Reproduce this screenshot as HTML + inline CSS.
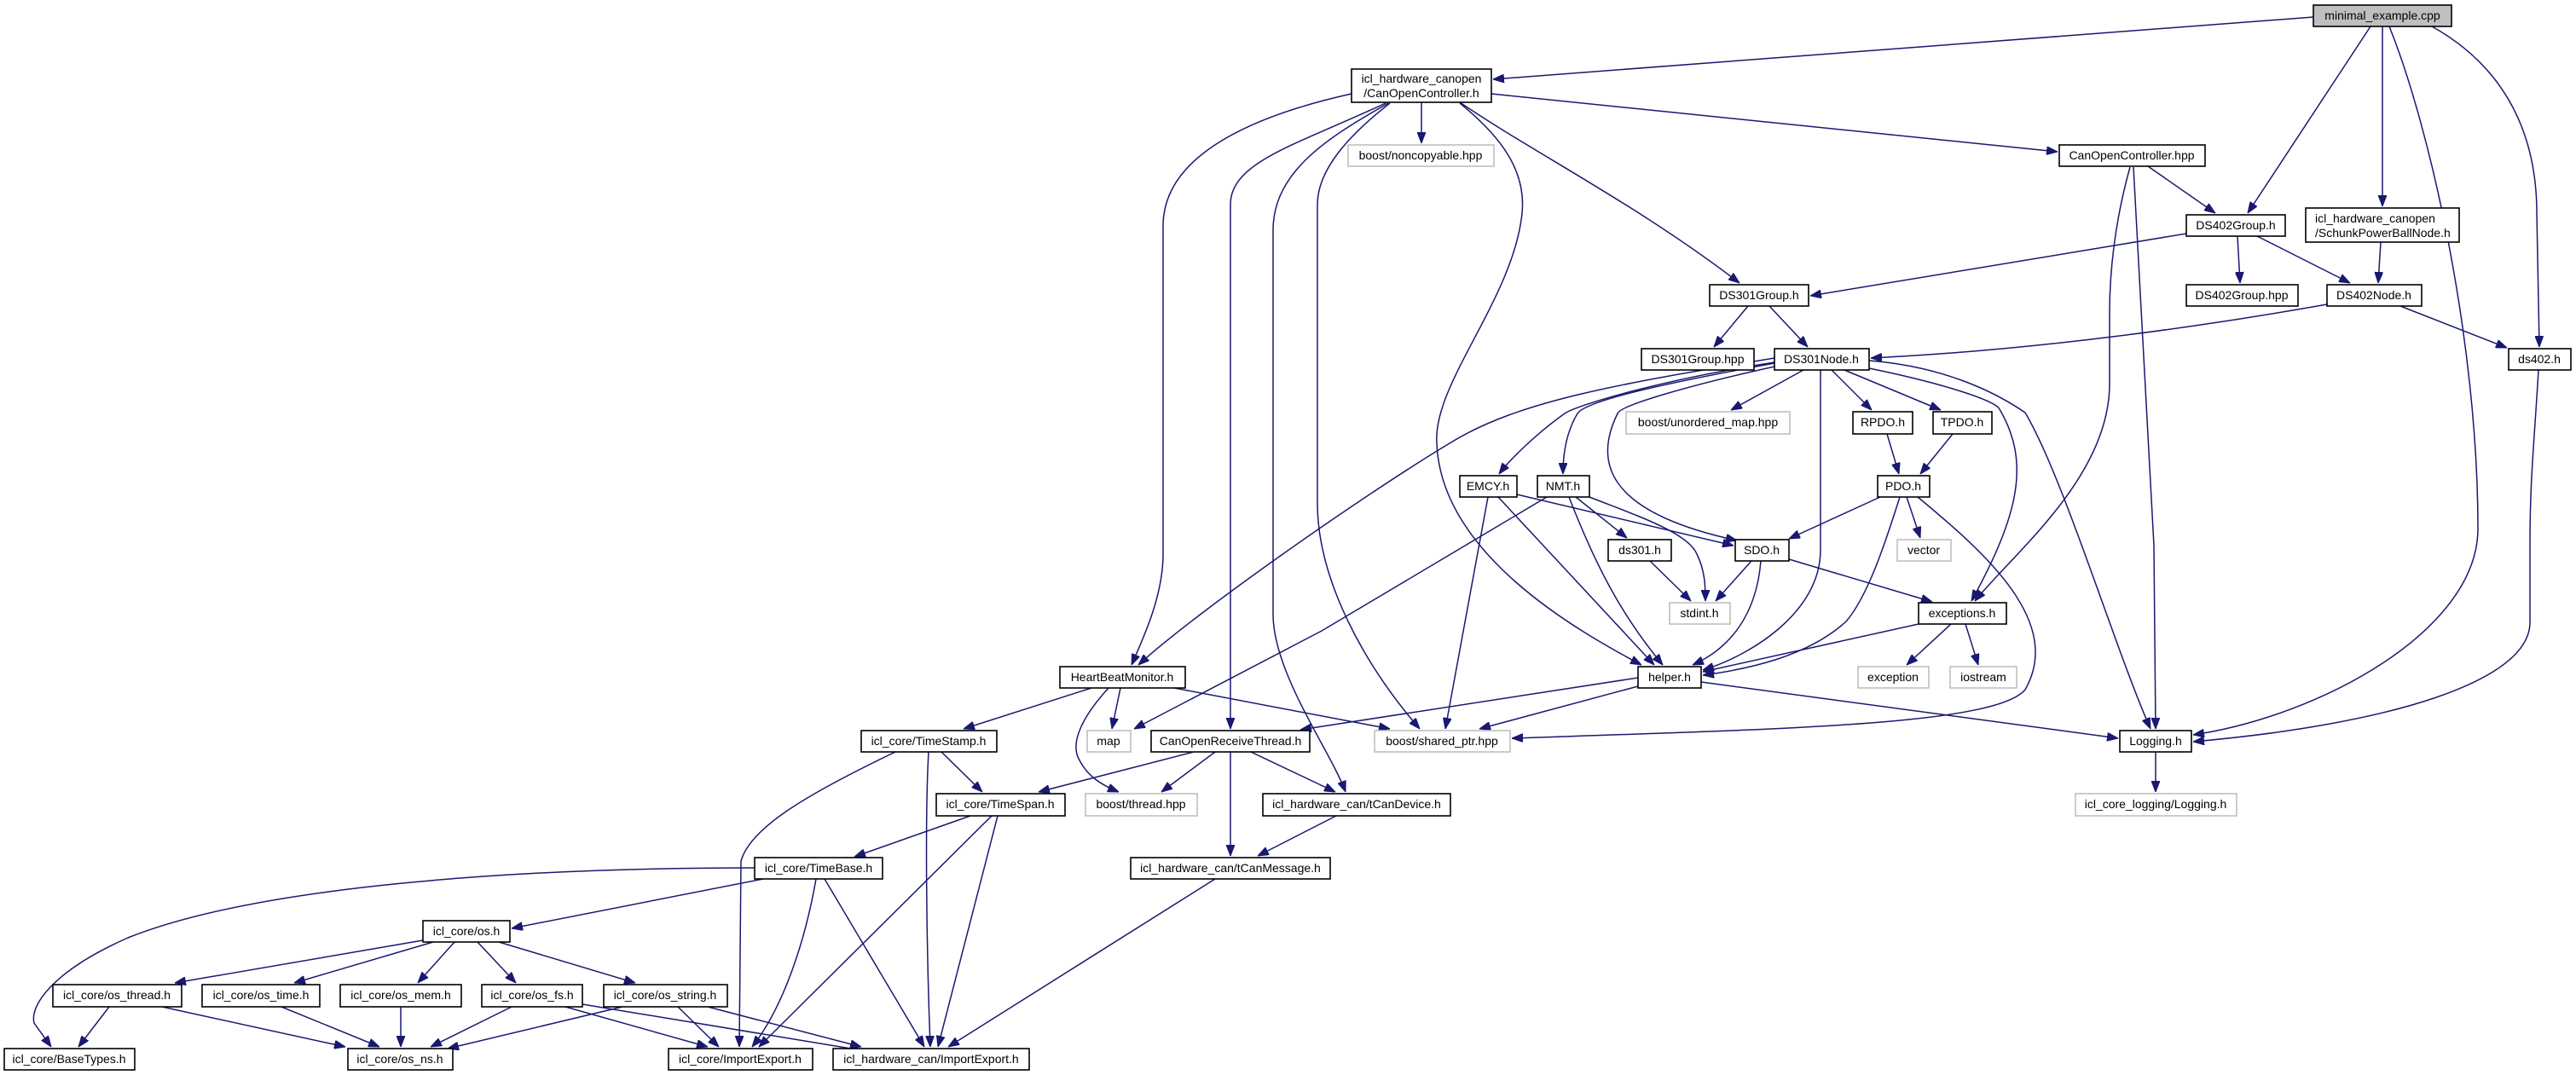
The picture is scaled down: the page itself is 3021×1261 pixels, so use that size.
<!DOCTYPE html>
<html><head><meta charset="utf-8"><style>
html,body{margin:0;padding:0;background:#fff;}
svg{display:block;}
.n{fill:#fff;stroke:#000;stroke-width:1.6;}
.g{fill:#fff;stroke:#bfbfbf;stroke-width:1.6;}
.r{fill:#bfbfbf;stroke:#000;stroke-width:1.6;}
text{font-family:"Liberation Sans",sans-serif;font-size:14px;fill:#000;text-anchor:middle;}
.e{fill:none;stroke:#191970;stroke-width:1.5;marker-end:url(#a);}
</style></head><body>
<svg width="3021" height="1261" viewBox="0 0 3021 1261" xmlns="http://www.w3.org/2000/svg">
<defs><marker id="a" markerUnits="userSpaceOnUse" markerWidth="13" markerHeight="10" refX="13" refY="5" orient="auto"><path d="M0,0 L13,5 L0,10 z" fill="#191970" stroke="#191970"/></marker></defs>
<g>
<path class="e" d="M2713,20 L1751,93"/>
<path class="e" d="M2780,31 L2636,250"/>
<path class="e" d="M2794,31 L2794,242"/>
<path class="e" d="M2802,31 C2850,150 2906,400 2906,620 C2906,740 2720,840 2572,862"/>
<path class="e" d="M2852,31 C2940,80 2975,160 2975,250 L2978,407"/>
<path class="e" d="M1667,120 L1667,168"/>
<path class="e" d="M1749,110 L2413,178"/>
<path class="e" d="M1712,120 C1800,180 1920,240 2040,332"/>
<path class="e" d="M1585,110 C1450,140 1364,190 1364,265 L1364,650 C1364,700 1340,750 1327,780"/>
<path class="e" d="M1625,121 C1520,170 1443,190 1443,240 L1443,855"/>
<path class="e" d="M1628,121 C1560,160 1493,200 1493,270 L1493,720 C1493,790 1560,880 1578,929"/>
<path class="e" d="M1630,121 C1580,160 1545,200 1545,240 L1545,590 C1545,680 1600,780 1665,855"/>
<path class="e" d="M1712,121 C1760,160 1790,200 1785,250 C1775,350 1680,450 1685,520 C1690,650 1850,740 1925,780"/>
<path class="e" d="M2081,420 C1900,450 1780,470 1700,520 C1600,580 1400,720 1335,780"/>
<path class="e" d="M2081,425 C1950,445 1850,475 1835,485 C1800,510 1770,540 1758,556"/>
<path class="e" d="M2081,426 C1950,450 1860,470 1850,485 C1835,510 1833,540 1833,556"/>
<path class="e" d="M2081,430 C1990,450 1900,475 1897,485 C1870,540 1880,600 2037,634"/>
<path class="e" d="M2115,434 L2030,481"/>
<path class="e" d="M2148,434 L2195,481"/>
<path class="e" d="M2163,434 L2276,481"/>
<path class="e" d="M2135,434 L2135,645 C2135,720 2050,770 1997,786"/>
<path class="e" d="M2192,432 C2280,450 2340,470 2345,480 C2380,540 2370,600 2312,705"/>
<path class="e" d="M2192,423 C2280,430 2340,460 2375,484 C2420,560 2480,760 2522,855"/>
<path class="e" d="M2050,359 L2010,407"/>
<path class="e" d="M2075,359 L2120,407"/>
<path class="e" d="M2564,274 L2123,347"/>
<path class="e" d="M2624,277 L2627,332"/>
<path class="e" d="M2647,277 L2756,332"/>
<path class="e" d="M2792,284 L2789,332"/>
<path class="e" d="M2729,357 C2600,380 2400,410 2194,420"/>
<path class="e" d="M2815,359 L2940,408"/>
<path class="e" d="M2977,434 C2972,520 2967,560 2967,640 L2967,730 C2967,800 2800,850 2572,870"/>
<path class="e" d="M2519,195 L2598,250"/>
<path class="e" d="M2498,196 C2480,260 2474,320 2474,367 L2474,450 C2474,560 2360,650 2316,705"/>
<path class="e" d="M2502,196 L2526,640 L2528,855"/>
<path class="e" d="M2528,882 L2528,929"/>
<path class="e" d="M1779,580 L2033,640"/>
<path class="e" d="M1757,583 L1940,780"/>
<path class="e" d="M1745,583 L1695,855"/>
<path class="e" d="M1814,583 L1550,740 L1330,855"/>
<path class="e" d="M1840,583 C1870,660 1900,720 1950,780"/>
<path class="e" d="M1848,583 L1908,631"/>
<path class="e" d="M1864,583 C1920,605 1980,625 1990,650 C2000,670 2000,690 2000,705"/>
<path class="e" d="M2213,509 L2227,556"/>
<path class="e" d="M2290,509 L2252,556"/>
<path class="e" d="M2205,583 L2098,632"/>
<path class="e" d="M2236,583 L2252,631"/>
<path class="e" d="M2228,583 C2210,640 2190,700 2165,729 C2120,770 2050,785 1997,792"/>
<path class="e" d="M2249,583 C2330,650 2420,730 2375,809 C2340,850 2100,855 1773,866"/>
<path class="e" d="M1935,658 L1983,705"/>
<path class="e" d="M2054,658 L2012,705"/>
<path class="e" d="M2065,658 C2060,720 2030,760 1985,780"/>
<path class="e" d="M2098,656 L2266,706"/>
<path class="e" d="M2250,732 L1997,788"/>
<path class="e" d="M2288,732 L2236,780"/>
<path class="e" d="M2305,732 L2320,780"/>
<path class="e" d="M1995,800 L2484,866"/>
<path class="e" d="M1921,805 L1735,855"/>
<path class="e" d="M1921,795 L1525,856"/>
<path class="e" d="M1280,807 L1130,855"/>
<path class="e" d="M1314,807 L1304,855"/>
<path class="e" d="M1300,807 C1270,840 1255,870 1265,890 C1275,910 1290,920 1312,929"/>
<path class="e" d="M1377,807 L1630,855"/>
<path class="e" d="M1104,882 L1152,929"/>
<path class="e" d="M1050,882 C950,930 880,970 869,1010 L867,1228"/>
<path class="e" d="M1089,882 C1085,950 1086,1100 1091,1228"/>
<path class="e" d="M1400,882 L1218,929"/>
<path class="e" d="M1425,882 L1362,929"/>
<path class="e" d="M1467,882 L1566,929"/>
<path class="e" d="M1443,882 L1443,1004"/>
<path class="e" d="M1138,957 L1002,1005"/>
<path class="e" d="M1163,957 L890,1228"/>
<path class="e" d="M1170,957 L1100,1228"/>
<path class="e" d="M1567,957 L1475,1004"/>
<path class="e" d="M1425,1031 L1112,1228"/>
<path class="e" d="M895,1031 L600,1089"/>
<path class="e" d="M885,1018 C600,1018 300,1040 150,1100 C60,1140 35,1180 40,1200 L60,1228"/>
<path class="e" d="M957,1031 C945,1100 920,1180 882,1228"/>
<path class="e" d="M967,1031 L1084,1228"/>
<path class="e" d="M496,1103 L205,1153"/>
<path class="e" d="M508,1105 L345,1153"/>
<path class="e" d="M533,1105 L490,1153"/>
<path class="e" d="M560,1105 L605,1153"/>
<path class="e" d="M585,1105 L745,1153"/>
<path class="e" d="M128,1181 L92,1228"/>
<path class="e" d="M190,1181 L405,1228"/>
<path class="e" d="M330,1181 L445,1228"/>
<path class="e" d="M470,1181 L470,1228"/>
<path class="e" d="M600,1181 L505,1228"/>
<path class="e" d="M663,1181 L830,1228"/>
<path class="e" d="M683,1178 L1010,1232"/>
<path class="e" d="M730,1181 L525,1230"/>
<path class="e" d="M795,1181 L843,1228"/>
<path class="e" d="M830,1181 L1010,1228"/>
</g>
<g>
<rect class="r" x="2713" y="6" width="162" height="25"/><text x="2794" y="23">minimal_example.cpp</text>
<rect class="n" x="1585" y="81" width="164" height="39"/><text x="1667" y="97">icl_hardware_canopen</text><text x="1667" y="114">/CanOpenController.h</text>
<rect class="g" x="1581" y="170" width="171" height="25"/><text x="1666" y="187">boost/noncopyable.hpp</text>
<rect class="n" x="2415" y="170" width="171" height="25"/><text x="2500" y="187">CanOpenController.hpp</text>
<rect class="n" x="2564" y="252" width="116" height="25"/><text x="2622" y="269">DS402Group.h</text>
<rect class="n" x="2704" y="244" width="180" height="40"/><text x="2715" y="261" style="text-anchor:start">icl_hardware_canopen</text><text x="2715" y="278" style="text-anchor:start">/SchunkPowerBallNode.h</text>
<rect class="n" x="2005" y="334" width="116" height="25"/><text x="2063" y="351">DS301Group.h</text>
<rect class="n" x="2564" y="334" width="131" height="25"/><text x="2629" y="351">DS402Group.hpp</text>
<rect class="n" x="2729" y="334" width="111" height="25"/><text x="2784" y="351">DS402Node.h</text>
<rect class="n" x="1925" y="409" width="132" height="25"/><text x="1991" y="426">DS301Group.hpp</text>
<rect class="n" x="2081" y="409" width="111" height="25"/><text x="2136" y="426">DS301Node.h</text>
<rect class="n" x="2942" y="409" width="73" height="25"/><text x="2978" y="426">ds402.h</text>
<rect class="g" x="1907" y="483" width="192" height="26"/><text x="2003" y="500">boost/unordered_map.hpp</text>
<rect class="n" x="2173" y="483" width="70" height="26"/><text x="2208" y="500">RPDO.h</text>
<rect class="n" x="2267" y="483" width="69" height="26"/><text x="2301" y="500">TPDO.h</text>
<rect class="n" x="1712" y="558" width="67" height="25"/><text x="1745" y="575">EMCY.h</text>
<rect class="n" x="1803" y="558" width="61" height="25"/><text x="1833" y="575">NMT.h</text>
<rect class="n" x="2202" y="558" width="61" height="25"/><text x="2232" y="575">PDO.h</text>
<rect class="n" x="1886" y="633" width="74" height="25"/><text x="1923" y="650">ds301.h</text>
<rect class="n" x="2035" y="633" width="63" height="25"/><text x="2066" y="650">SDO.h</text>
<rect class="g" x="2225" y="633" width="63" height="25"/><text x="2256" y="650">vector</text>
<rect class="g" x="1958" y="707" width="71" height="25"/><text x="1993" y="724">stdint.h</text>
<rect class="n" x="2250" y="707" width="103" height="25"/><text x="2301" y="724">exceptions.h</text>
<rect class="n" x="1243" y="782" width="147" height="25"/><text x="1316" y="799">HeartBeatMonitor.h</text>
<rect class="n" x="1921" y="782" width="74" height="25"/><text x="1958" y="799">helper.h</text>
<rect class="g" x="2179" y="782" width="83" height="25"/><text x="2220" y="799">exception</text>
<rect class="g" x="2287" y="782" width="78" height="25"/><text x="2326" y="799">iostream</text>
<rect class="n" x="1010" y="857" width="159" height="25"/><text x="1089" y="874">icl_core/TimeStamp.h</text>
<rect class="g" x="1275" y="857" width="51" height="25"/><text x="1300" y="874">map</text>
<rect class="n" x="1350" y="857" width="186" height="25"/><text x="1443" y="874">CanOpenReceiveThread.h</text>
<rect class="g" x="1612" y="857" width="159" height="25"/><text x="1691" y="874">boost/shared_ptr.hpp</text>
<rect class="n" x="2486" y="857" width="84" height="25"/><text x="2528" y="874">Logging.h</text>
<rect class="n" x="1098" y="931" width="151" height="26"/><text x="1173" y="948">icl_core/TimeSpan.h</text>
<rect class="g" x="1273" y="931" width="131" height="26"/><text x="1338" y="948">boost/thread.hpp</text>
<rect class="n" x="1481" y="931" width="220" height="26"/><text x="1591" y="948">icl_hardware_can/tCanDevice.h</text>
<rect class="g" x="2434" y="931" width="189" height="26"/><text x="2528" y="948">icl_core_logging/Logging.h</text>
<rect class="n" x="885" y="1006" width="150" height="25"/><text x="960" y="1023">icl_core/TimeBase.h</text>
<rect class="n" x="1326" y="1006" width="234" height="25"/><text x="1443" y="1023">icl_hardware_can/tCanMessage.h</text>
<rect class="n" x="496" y="1080" width="102" height="25"/><text x="547" y="1097">icl_core/os.h</text>
<rect class="n" x="62" y="1155" width="151" height="26"/><text x="137" y="1172">icl_core/os_thread.h</text>
<rect class="n" x="237" y="1155" width="138" height="26"/><text x="306" y="1172">icl_core/os_time.h</text>
<rect class="n" x="399" y="1155" width="142" height="26"/><text x="470" y="1172">icl_core/os_mem.h</text>
<rect class="n" x="565" y="1155" width="118" height="26"/><text x="624" y="1172">icl_core/os_fs.h</text>
<rect class="n" x="708" y="1155" width="145" height="26"/><text x="780" y="1172">icl_core/os_string.h</text>
<rect class="n" x="5" y="1230" width="153" height="25"/><text x="81" y="1247">icl_core/BaseTypes.h</text>
<rect class="n" x="408" y="1230" width="123" height="25"/><text x="469" y="1247">icl_core/os_ns.h</text>
<rect class="n" x="784" y="1230" width="169" height="25"/><text x="868" y="1247">icl_core/ImportExport.h</text>
<rect class="n" x="977" y="1230" width="230" height="25"/><text x="1092" y="1247">icl_hardware_can/ImportExport.h</text>
</g>
</svg>
</body></html>
